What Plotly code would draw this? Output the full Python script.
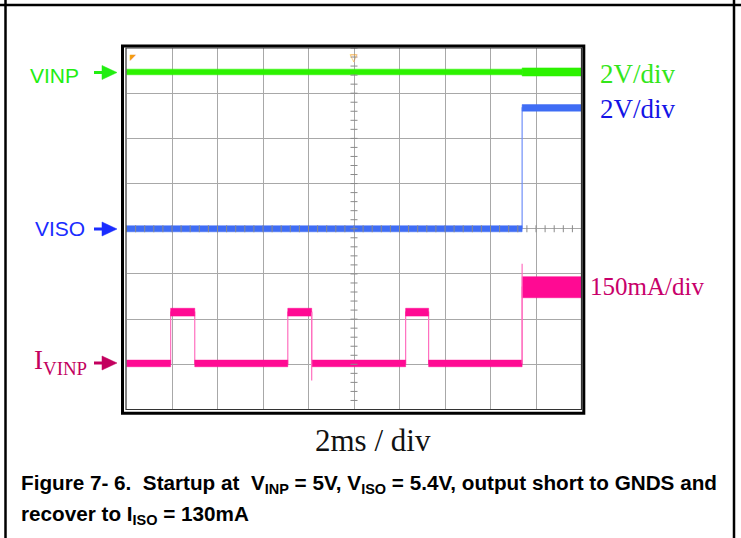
import numpy as np
import plotly.graph_objects as go

# ---------------- data (read from the scope capture) ----------------
# time in ms, 2 ms/div, 10 divisions
v_edge_times = [0.0, 17.39, 20.0]          # VINP / VISO segment boundaries
vinp_levels = [4.94, 4.94]                  # V
vinp_ripple = [0.25, 0.36]                  # V peak-to-peak
viso_levels = [0.0, 5.35]                   # V
viso_ripple = [0.27, 0.29]                  # V peak-to-peak

i_edge_times = [0.0, 1.94, 3.00, 7.09, 8.14, 12.27, 13.28, 17.39, 20.0]
i_levels = [0, 170, 0, 170, 0, 170, 0, 253]          # mA
i_ripple = [22, 26, 22, 26, 22, 26, 22, 70]          # mA peak-to-peak
i_spike_times = [8.14, 17.39]
i_spike_from = [170, 0]
i_spike_to = [-57, 331]

# channel settings (scale per division, ground position in divisions)
ch_scale = {"VINP": 2.0, "VISO": 2.0, "IVINP": 150.0}
ch_offset = {"VINP": 5.0, "VISO": 4.0, "IVINP": 1.02}

labels_right = ["2V/div", "2V/div", "150mA/div"]
x_label = "2ms / div"

# ---------------- styling ----------------
W, H = 741, 538
GREEN = "#2cf200"
BLUE = "#3f6df5"
PINK = "#ff0a93"


def px(x):
    return x / W


def py(y):
    return 1 - y / H


def to_div(ch, vals):
    return [ch_offset[ch] + v / ch_scale[ch] for v in vals]


fig = go.Figure()


def add_channel(ch, times, levels, ripple, color, edge_color):
    lv = to_div(ch, levels)
    half = [r / ch_scale[ch] / 2 for r in ripple]
    # thin step line (edges)
    xs, ys = [], []
    for i, l in enumerate(lv):
        xs += [times[i], times[i + 1]]
        ys += [l, l]
    fig.add_trace(go.Scatter(x=xs, y=ys, mode="lines",
                             line=dict(color=edge_color, width=1.2),
                             hoverinfo="skip", showlegend=False))
    # noisy band
    for i, l in enumerate(lv):
        t0, t1 = times[i], times[i + 1]
        fig.add_trace(go.Scatter(
            x=[t0, t1, t1, t0, t0],
            y=[l - half[i], l - half[i], l + half[i], l + half[i], l - half[i]],
            mode="lines", fill="toself", fillcolor=color,
            line=dict(color=color, width=0.5),
            hoverinfo="skip", showlegend=False))


add_channel("VINP", v_edge_times, vinp_levels, vinp_ripple, GREEN, GREEN)
add_channel("VISO", v_edge_times, viso_levels, viso_ripple, BLUE, "#6f8ff8")
add_channel("IVINP", i_edge_times, i_levels, i_ripple, PINK, "#ff6fbf")

for t, a, b in zip(i_spike_times, i_spike_from, i_spike_to):
    ya, yb = to_div("IVINP", [a, b])
    fig.add_trace(go.Scatter(x=[t, t], y=[ya, yb], mode="lines",
                             line=dict(color="#ff6fbf", width=1.2),
                             hoverinfo="skip", showlegend=False))

# center graticule minor ticks
fig.add_trace(go.Scatter(x=[10] * 41, y=np.arange(0, 8.001, 0.2), mode="markers",
                         marker=dict(symbol="line-ew", size=5,
                                     line=dict(color="#8a8a8a", width=1)),
                         hoverinfo="skip", showlegend=False))
fig.add_trace(go.Scatter(x=np.arange(0, 20.001, 0.4), y=[4] * 51, mode="markers",
                         marker=dict(symbol="line-ns", size=5,
                                     line=dict(color="#8a8a8a", width=1)),
                         hoverinfo="skip", showlegend=False))

# plot area (graticule) in pixels
L, R, T, B = 126.5, 581.5, 48.0, 409.5

fig.update_layout(
    width=W, height=H,
    margin=dict(l=0, r=0, t=0, b=0),
    paper_bgcolor="white", plot_bgcolor="white",
    showlegend=False,
    xaxis=dict(domain=[px(L), px(R)], range=[0, 20], dtick=2, tick0=0,
               showgrid=True, gridcolor="#a8a8a8", gridwidth=1,
               zeroline=False, showticklabels=False, ticks="", showline=False,
               fixedrange=True),
    yaxis=dict(domain=[py(B), py(T)], range=[0, 8], dtick=1, tick0=0,
               showgrid=True, gridcolor="#a8a8a8", gridwidth=1,
               zeroline=False, showticklabels=False, ticks="", showline=False,
               fixedrange=True),
)

shapes = [
    # page frame
    dict(type="line", xref="paper", yref="paper", x0=0, x1=1, y0=py(5), y1=py(5),
         line=dict(color="black", width=2.5)),
    dict(type="line", xref="paper", yref="paper", x0=px(5.5), x1=px(5.5), y0=0, y1=1,
         line=dict(color="black", width=2.5)),
    dict(type="line", xref="paper", yref="paper", x0=px(734), x1=px(734), y0=0, y1=1,
         line=dict(color="black", width=2.5)),
    # scope screen frame
    dict(type="rect", xref="paper", yref="paper", x0=px(122.5), x1=px(583.8),
         y0=py(413.3), y1=py(46), line=dict(color="black", width=3)),
    dict(type="rect", xref="paper", yref="paper", x0=px(L - 0.5), x1=px(R),
         y0=py(B), y1=py(T), line=dict(color="#333333", width=1.2)),
]
# channel marker arrows (shaft + filled head)
for yy, col in [(72.5, "#22ee11"), (229, "#1a2cff"), (363, "#c3005e")]:
    shapes.append(dict(type="line", xref="paper", yref="paper",
                       x0=px(94), x1=px(104), y0=py(yy), y1=py(yy),
                       line=dict(color=col, width=3)))
    shapes.append(dict(type="path", xref="paper", yref="paper",
                       path=f"M {px(102)} {py(yy - 7)} L {px(117)} {py(yy)} "
                            f"L {px(102)} {py(yy + 7)} Z",
                       fillcolor=col, line=dict(color=col, width=0.5)))
fig.update_layout(shapes=shapes)

ann = []
# left channel labels
ann.append(dict(text="VINP", x=px(81), y=py(75), xref="paper", yref="paper",
                xanchor="right", yanchor="middle", showarrow=False,
                font=dict(family="Liberation Sans", size=21, color="#22ee11")))
ann.append(dict(text="VISO", x=px(87), y=py(228), xref="paper", yref="paper",
                xanchor="right", yanchor="middle", showarrow=False,
                font=dict(family="Liberation Sans", size=21, color="#1a2cff")))
ann.append(dict(text="I<sub>VINP</sub>", x=px(89), y=py(362), xref="paper", yref="paper",
                xanchor="right", yanchor="middle", showarrow=False,
                font=dict(family="Liberation Serif", size=27, color="#c3005e")))
# right scale labels
ann.append(dict(text=labels_right[0], x=px(598), y=py(74), xref="paper", yref="paper",
                xanchor="left", yanchor="middle", showarrow=False,
                font=dict(family="Liberation Serif", size=27, color="#33e61a")))
ann.append(dict(text=labels_right[1], x=px(598), y=py(109), xref="paper", yref="paper",
                xanchor="left", yanchor="middle", showarrow=False,
                font=dict(family="Liberation Serif", size=27, color="#1414e6")))
ann.append(dict(text=labels_right[2], x=px(588), y=py(286), xref="paper", yref="paper",
                xanchor="left", yanchor="middle", showarrow=False,
                font=dict(family="Liberation Serif", size=25, color="#c8006a")))
# x scale label
ann.append(dict(text=x_label, x=px(373), y=py(440), xref="paper", yref="paper",
                xanchor="center", yanchor="middle", showarrow=False,
                font=dict(family="Liberation Serif", size=31, color="#111111")))
# trigger markers
ann.append(dict(text="▽", x=10, y=py(T), xref="x", yref="paper",
                xanchor="center", yanchor="top", showarrow=False,
                font=dict(size=10, color="#f39c12")))
ann.append(dict(text="◤", x=px(L + 1), y=py(T + 1), xref="paper", yref="paper",
                xanchor="left", yanchor="top", showarrow=False,
                font=dict(size=8, color="#f39c12")))
# caption
cap_font = dict(family="Liberation Sans Narrow, Liberation Sans", size=20.7, color="black")
ann.append(dict(text="<b>Figure 7- 6.\u00a0 Startup at\u00a0 V<sub>INP</sub> = 5V, V<sub>ISO</sub> = 5.4V, "
                     "output short to GNDS and</b>",
                x=px(19), y=py(484), xref="paper", yref="paper",
                xanchor="left", yanchor="middle", showarrow=False, font=cap_font))
ann.append(dict(text="<b>recover to I<sub>ISO</sub> = 130mA</b>",
                x=px(19), y=py(515), xref="paper", yref="paper",
                xanchor="left", yanchor="middle", showarrow=False, font=cap_font))
fig.update_layout(annotations=ann)

fig.write_html("out.html", config={"displayModeBar": False},
               post_script="document.body.style.margin='0';")
